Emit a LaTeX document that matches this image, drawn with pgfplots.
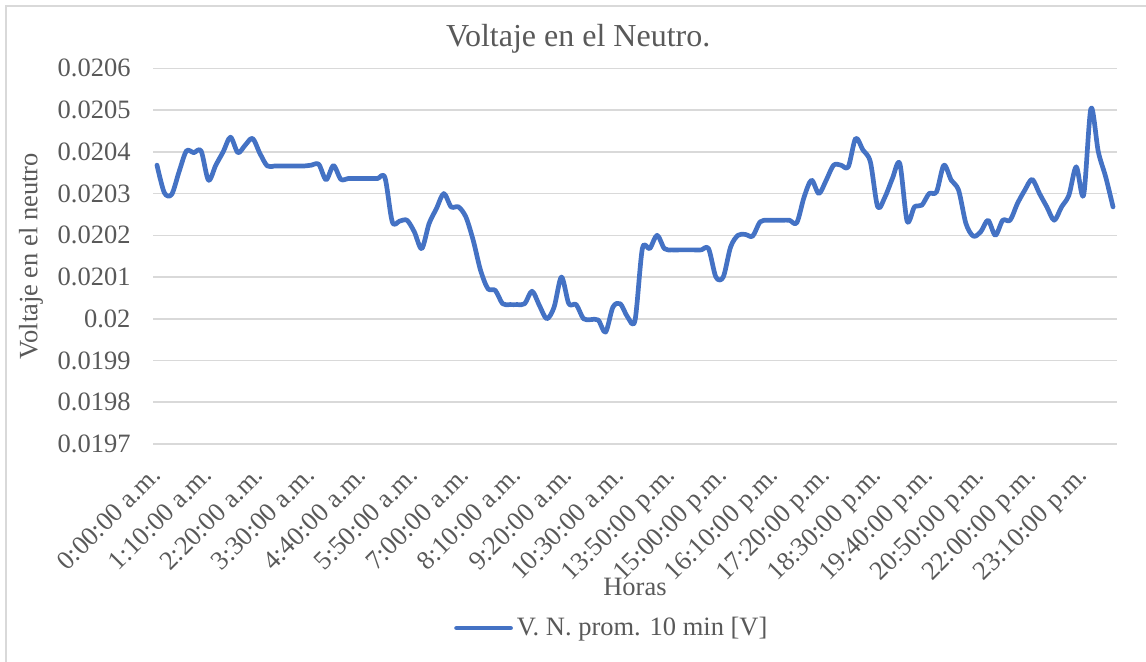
\documentclass[border=0pt]{standalone}
\usepackage{pgfplots}
\pgfplotsset{compat=1.18}
\usepackage{fontspec}
\setmainfont{Liberation Serif}
\definecolor{linec}{HTML}{4472C4}
\definecolor{gridc}{HTML}{D9D9D9}
\definecolor{txt}{HTML}{595959}

\pgfplotstableread{
i v
0 0.020368
1 0.020302
2 0.020298
3 0.020352
4 0.020402
5 0.020398
6 0.020402
7 0.020332
8 0.020368
9 0.020400
10 0.020435
11 0.020398
12 0.020416
13 0.020432
14 0.020396
15 0.020366
16 0.020366
17 0.020366
18 0.020366
19 0.020366
20 0.020366
21 0.020368
22 0.020370
23 0.020333
24 0.020367
25 0.020334
26 0.020336
27 0.020336
28 0.020336
29 0.020336
30 0.020336
31 0.020338
32 0.020232
33 0.020234
34 0.020236
35 0.020208
36 0.020168
37 0.020228
38 0.020264
39 0.020300
40 0.020268
41 0.020268
42 0.020244
43 0.020188
44 0.020116
45 0.020072
46 0.020068
47 0.020036
48 0.020034
49 0.020034
50 0.020036
51 0.020066
52 0.020032
53 0.020000
54 0.020028
55 0.020100
56 0.020036
57 0.020034
58 0.020000
59 0.019998
60 0.019997
61 0.019968
62 0.020028
63 0.020036
64 0.020004
65 0.019996
66 0.020168
67 0.020168
68 0.020200
69 0.020168
70 0.020165
71 0.020165
72 0.020165
73 0.020165
74 0.020165
75 0.020168
76 0.020100
77 0.020100
78 0.020172
79 0.020200
80 0.020202
81 0.020198
82 0.020232
83 0.020236
84 0.020236
85 0.020236
86 0.020236
87 0.020230
88 0.020292
89 0.020332
90 0.020300
91 0.020332
92 0.020368
93 0.020368
94 0.020364
95 0.020432
96 0.020404
97 0.020376
98 0.020268
99 0.020292
100 0.020336
101 0.020372
102 0.020234
103 0.020268
104 0.020272
105 0.020300
106 0.020304
107 0.020368
108 0.020332
109 0.020308
110 0.020228
111 0.020198
112 0.020208
113 0.020236
114 0.020200
115 0.020236
116 0.020236
117 0.020276
118 0.020308
119 0.020334
120 0.020300
121 0.020268
122 0.020236
123 0.020268
124 0.020296
125 0.020364
126 0.020296
127 0.020504
128 0.020400
129 0.020340
130 0.020268
}\datatable

\begin{document}
\begin{tikzpicture}
\useasboundingbox (0,0) rectangle (573pt,331pt);
\draw[gridc, line width=0.75pt] (3pt,-10pt) rectangle (590pt,328pt);
\begin{axis}[
  scale only axis, width=481.7pt, height=187.85pt,
  at={(76.65pt,109pt)}, anchor=south west,
  xmin=-0.5, xmax=130.5, ymin=0.0197, ymax=0.0206,
  axis line style={draw=none},
  major tick length=0pt,
  ymajorgrids, grid style={gridc, line width=0.75pt},
  scaled y ticks=false,
  ytick={0.0197,0.0198,0.0199,0.0200,0.0201,0.0202,0.0203,0.0204,0.0205,0.0206},
  yticklabels={0.0197,0.0198,0.0199,0.02,0.0201,0.0202,0.0203,0.0204,0.0205,0.0206},
  xtick={0,7,14,21,28,35,42,49,56,63,70,77,84,91,98,105,112,119,126},
  xticklabels={0:00:00 a.m.,1:10:00 a.m.,2:20:00 a.m.,3:30:00 a.m.,4:40:00 a.m.,5:50:00 a.m.,7:00:00 a.m.,8:10:00 a.m.,9:20:00 a.m.,10:30:00 a.m.,13:50:00 p.m.,15:00:00 p.m.,16:10:00 p.m.,17:20:00 p.m.,18:30:00 p.m.,19:40:00 p.m.,20:50:00 p.m.,22:00:00 p.m.,23:10:00 p.m.},
  tick label style={color=txt, font=\fontsize{13.25}{15}\selectfont},
  yticklabel style={anchor=east, inner sep=0pt, xshift=-11.2pt},
  xticklabel style={inner sep=0pt, anchor=base east, yshift=-16.5pt, xshift=2.5pt, rotate=45},
  title={Voltaje en el Neutro.},
  title style={at={(axis description cs:0.441,1.027)}, anchor=base, color=txt, font=\fontsize{16}{19}\selectfont},
  xlabel={Horas},
  xlabel style={at={(axis description cs:0.5,-0.381)}, anchor=center, color=txt, font=\fontsize{13.25}{15}\selectfont},
  ylabel={Voltaje en el neutro},
  ylabel style={at={(axis description cs:-0.127,0.5)}, anchor=center, color=txt, font=\fontsize{13.25}{15}\selectfont},
  legend style={at={(axis description cs:0.477,-0.49)}, anchor=center, draw=none, fill=none, text=txt, font=\fontsize{13.25}{15}\selectfont},
  legend image code/.code={\draw[#1] (0pt,0pt) -- (27pt,0pt);},
]
\addplot[linec, line width=2.35pt, smooth, line join=round, line cap=round] table[x=i, y=v] {\datatable};
\addlegendentry{V. N. prom. 10 min [V]}
\end{axis}
\end{tikzpicture}
\end{document}
